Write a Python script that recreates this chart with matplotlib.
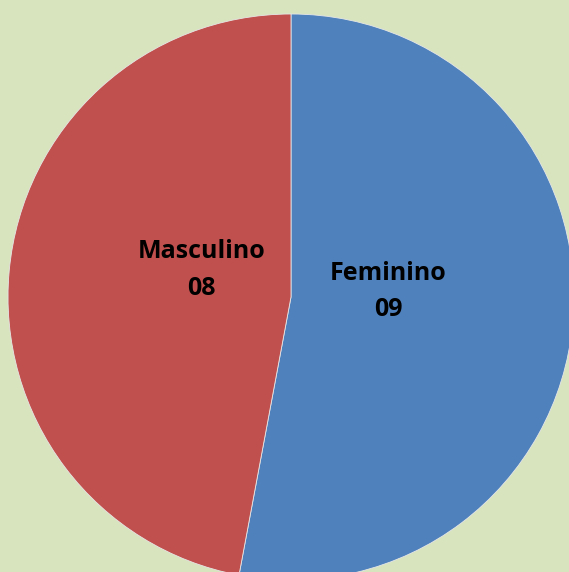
import matplotlib
matplotlib.use("Agg")
import matplotlib.pyplot as plt

categories = ["Feminino", "Masculino"]
values = [9, 8]
value_labels = ["09", "08"]
colors = ["#4F81BD", "#C0504D"]
label_pos = [(0.343, 0.02), (-0.315, 0.095)]

W, H = 569, 572
fig = plt.figure(figsize=(W / 100, H / 100), dpi=100)
fig.patch.set_facecolor("#D7E4BD")

cx, cy, r = 291, 297, 283
ax = fig.add_axes([(cx - r) / W, (H - cy - r) / H, 2 * r / W, 2 * r / H])

wedges, _ = ax.pie(values, colors=colors, startangle=90, counterclock=False,
                   radius=1, wedgeprops=dict(edgecolor="#E6E6E6", linewidth=0.6))
for w in wedges:
    w.set_clip_on(False)
ax.set_aspect("auto")
ax.set_xlim(-1, 1)
ax.set_ylim(-1, 1)
ax.axis("off")

for cat, vl, (x, y) in zip(categories, value_labels, label_pos):
    ax.text(x, y, f"{cat}\n{vl}", ha="center", va="center", fontsize=18,
            fontweight="bold", family=["Open Sans", "DejaVu Sans"],
            linespacing=1.6, color="black")

fig.savefig("out.png", dpi=100, facecolor=fig.get_facecolor())
